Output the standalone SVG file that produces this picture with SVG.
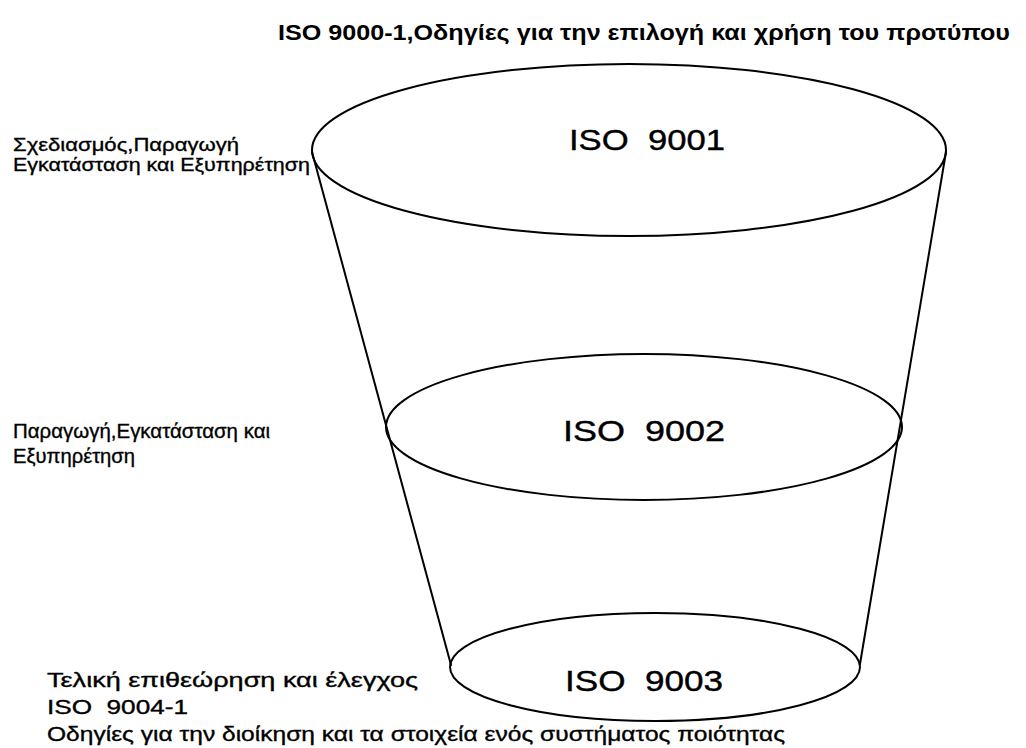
<svg xmlns="http://www.w3.org/2000/svg" width="1026" height="748" viewBox="0 0 1026 748">
  <style>
    .bg { fill: #ffffff; }
    .ring { fill: none; stroke: #000000; stroke-width: 2; }
    .wall { fill: none; stroke: #000000; stroke-width: 2; stroke-linecap: round; }
    .lbl { font-family: "Liberation Sans", Arial, sans-serif; fill: #000000; stroke: #000000; stroke-width: 0.35; }
    .iso { font-family: "Liberation Sans", Arial, sans-serif; font-size: 30px; fill: #000000; stroke: #000000; stroke-width: 0.4; white-space: pre; }
    .side { font-size: 19px; }
    .side2 { font-size: 20px; }
    .title { font-family: "Liberation Sans", Arial, sans-serif; font-size: 22px; font-weight: bold; fill: #000000; }
  </style>

  <rect class="bg" x="0" y="0" width="1026" height="748"/>

  <!-- heading -->
  <g id="title">
    <text class="title" x="278" y="40" textLength="732" lengthAdjust="spacingAndGlyphs">ISO 9000-1,Οδηγίες για την επιλογή και χρήση του προτύπου</text>
  </g>

  <!-- funnel walls -->
  <g id="connectors">
    <line class="wall" x1="312" y1="152" x2="451" y2="665"/>
    <line class="wall" x1="946" y1="152" x2="860" y2="664"/>
  </g>

  <!-- top level -->
  <g id="iso9001">
    <ellipse class="ring" cx="629" cy="150" rx="317" ry="86"/>
    <text class="iso" x="569" y="150" textLength="156" lengthAdjust="spacingAndGlyphs">ISO  9001</text>
  </g>

  <!-- middle level -->
  <g id="iso9002">
    <ellipse class="ring" cx="644" cy="427" rx="258" ry="73"/>
    <text class="iso" x="563" y="441" textLength="162" lengthAdjust="spacingAndGlyphs">ISO  9002</text>
  </g>

  <!-- bottom level -->
  <g id="iso9003">
    <ellipse class="ring" cx="655" cy="667" rx="205" ry="54"/>
    <text class="iso" x="565" y="691" textLength="158" lengthAdjust="spacingAndGlyphs">ISO  9003</text>
  </g>

  <!-- scope notes -->
  <g id="scope-9001">
    <text class="lbl side" x="13" y="151" textLength="226" lengthAdjust="spacingAndGlyphs">Σχεδιασμός,Παραγωγή</text>
    <text class="lbl side" x="13" y="171" textLength="297" lengthAdjust="spacingAndGlyphs">Εγκατάσταση και Εξυπηρέτηση</text>
  </g>

  <g id="scope-9002">
    <text class="lbl side2" x="13" y="438" textLength="257" lengthAdjust="spacingAndGlyphs">Παραγωγή,Εγκατάσταση και</text>
    <text class="lbl side2" x="13" y="463" textLength="122" lengthAdjust="spacingAndGlyphs">Εξυπηρέτηση</text>
  </g>

  <g id="scope-9003">
    <text class="lbl side2" x="47" y="687" textLength="371" lengthAdjust="spacingAndGlyphs">Τελική επιθεώρηση και έλεγχος</text>
  </g>

  <g id="iso9004">
    <text class="lbl side2" x="47" y="714" textLength="141" lengthAdjust="spacingAndGlyphs" style="white-space: pre">ISO  9004-1</text>
    <text class="lbl side2" x="47" y="741" textLength="738" lengthAdjust="spacingAndGlyphs">Οδηγίες για την διοίκηση και τα στοιχεία ενός συστήματος ποιότητας</text>
  </g>
</svg>
